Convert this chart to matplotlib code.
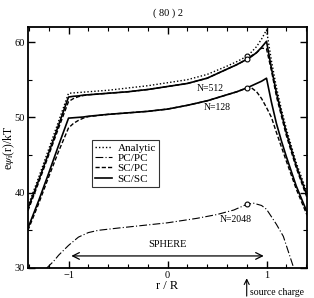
import matplotlib
matplotlib.use("Agg")
import matplotlib.pyplot as plt
from matplotlib.ticker import MultipleLocator

plt.rcParams["font.family"] = ["Liberation Serif", "DejaVu Serif"]
plt.rcParams["mathtext.fontset"] = "stix"

# r / R positions used by the SC curves
r_sc = [-1.41, -1.3, -1.2, -1.1, -1.0, -0.95, -0.9, -0.85, -0.8, -0.6, -0.4, -0.2,
        0.0, 0.2, 0.4, 0.6, 0.7, 0.8, 0.85, 0.9, 0.95, 1.0, 1.05, 1.1, 1.15, 1.2, 1.3, 1.41]

analytic = [38.2, 42.1, 45.8, 49.5, 53.2, 53.25, 53.3, 53.35, 53.4, 53.6, 53.9, 54.2,
            54.6, 55.0, 55.7, 56.8, 57.4, 58.1, 58.7, 59.4, 60.4, 61.6, 57.5, 54.0, 51.1, 48.5, 44.0, 40.0]
scsc_512 = [37.9, 41.7, 45.3, 49.0, 52.7, 52.8, 52.85, 52.95, 53.0, 53.2, 53.4, 53.7,
            54.1, 54.5, 55.2, 56.4, 57.0, 57.7, 58.1, 58.6, 59.3, 60.1, 56.5, 53.3, 50.6, 48.0, 43.6, 39.6]
scpc_512 = [37.6, 41.4, 45.0, 48.6, 52.1, 52.5, 52.75, 52.9, 53.0, 53.2, 53.4, 53.7,
            54.1, 54.5, 55.2, 56.4, 57.0, 57.7, 58.2, 58.6, 59.2, 59.1, 56.2, 52.8, 50.2, 47.6, 43.3, 39.3]
scsc_128 = [35.3, 39.0, 42.6, 46.3, 49.9, 49.95, 50.0, 50.05, 50.15, 50.4, 50.6, 50.8,
            51.1, 51.6, 52.2, 53.0, 53.4, 53.9, 54.2, 54.5, 54.8, 55.2, 52.0, 49.2, 46.9, 44.8, 40.9, 37.4]
scpc_128 = [35.0, 38.6, 42.1, 45.5, 48.6, 49.2, 49.6, 49.9, 50.1, 50.4, 50.6, 50.8,
            51.1, 51.6, 52.2, 53.0, 53.4, 53.9, 53.9, 53.4, 52.5, 51.3, 50.0, 48.0, 46.1, 44.2, 40.5, 37.0]

# PC/PC, N=2048
r_pc = [-1.22, -1.15, -1.1, -1.0, -0.9, -0.8, -0.7, -0.5, 0.0, 0.3, 0.5, 0.67, 0.8,
        0.87, 0.95, 1.0, 1.1, 1.17, 1.22, 1.27, 1.3]
pcpc_2048 = [30.0, 30.9, 31.7, 33.0, 34.1, 34.7, 35.0, 35.3, 36.0, 36.6, 37.1, 37.7, 38.45,
             38.6, 38.3, 37.8, 35.8, 34.2, 32.2, 30.2, 29.0]

# marked points at the source charge (r = 0.8)
mark_r = [0.8, 0.8, 0.8, 0.8]
mark_v = [58.1, 57.7, 53.9, 38.45]

fig = plt.figure(figsize=(3.14, 2.98), dpi=100)
ax = fig.add_axes([0.089, 0.1007, 0.889, 0.8087])

lw = 1.0
ax.plot(r_sc, analytic, color="black", lw=lw, ls=(0, (1, 1.5)), label="Analytic")
ax.plot(r_pc, pcpc_2048, color="black", lw=0.8, ls=(0, (7, 2, 1, 2)), label="PC/PC")
ax.plot(r_sc, scpc_512, color="black", lw=lw, ls=(0, (3, 1.5)), label="SC/PC")
ax.plot(r_sc, scsc_512, color="black", lw=1.2, label="SC/SC")
ax.plot(r_sc, scpc_128, color="black", lw=lw, ls=(0, (3, 1.5)))
ax.plot(r_sc, scsc_128, color="black", lw=1.2)
ax.plot(mark_r, mark_v, ls="none", marker="o", ms=3.5, mfc="white", mec="black", mew=0.8)

ax.text(0.43, 53.9, "N=512", ha="center", va="center", fontsize=7)
ax.text(0.50, 51.3, "N=128", ha="center", va="center", fontsize=7)
ax.text(0.69, 36.5, "N=2048", ha="center", va="center", fontsize=7)

ax.annotate("", xy=(-1, 31.6), xytext=(1, 31.6),
            arrowprops=dict(arrowstyle="<->", color="black", lw=0.9, mutation_scale=12))
ax.text(0, 33.1, "SPHERE", ha="center", va="center", fontsize=7.5)

ax.annotate("", xy=(0.8, 29.0), xytext=(0.8, 25.9), annotation_clip=False,
            arrowprops=dict(arrowstyle="->", color="black", lw=0.8, mutation_scale=9))
ax.text(0.83, 26.8, "source charge", ha="left", va="center", fontsize=7, clip_on=False)

ax.set_xlim(-1.41, 1.41)
ax.set_ylim(30, 62)
ax.xaxis.set_major_locator(MultipleLocator(1))
ax.xaxis.set_minor_locator(MultipleLocator(0.2))
ax.yaxis.set_major_locator(MultipleLocator(10))
ax.yaxis.set_minor_locator(MultipleLocator(5))
ax.tick_params(which="both", direction="in", top=True, right=True, labelsize=7.5, pad=2)
ax.tick_params(which="major", length=5, width=1)
ax.tick_params(which="minor", length=3, width=0.8)
for s in ax.spines.values():
    s.set_linewidth(1.3)

ax.set_xlabel("r / R", fontsize=9, labelpad=0)
ax.set_ylabel(r"e$\psi_{\mathrm{i}}$(r)/kT", fontsize=8.5, va="center")
ax.yaxis.set_label_coords(-0.068, 0.5)
ax.set_title("( 80 ) 2", fontsize=7.5, pad=8)

leg = ax.legend(loc="upper left", bbox_to_anchor=(0.229, 0.533), fontsize=8,
                frameon=True, fancybox=False, edgecolor="black", handlelength=1.5,
                handletextpad=0.5, borderpad=0.3, labelspacing=0.05, borderaxespad=0)
leg.get_frame().set_linewidth(0.8)

fig.savefig("out.png", dpi=100)
